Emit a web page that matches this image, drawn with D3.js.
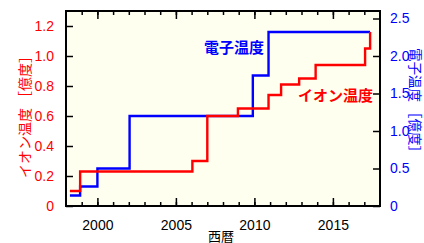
<!DOCTYPE html>
<html><head><meta charset="utf-8">
<script src="https://cdn.jsdelivr.net/npm/d3@7"></script>
<style>
html,body{margin:0;padding:0;background:#fff;}
svg{display:block;}
</style></head>
<body>
<svg id="c" width="424" height="243"></svg>
<script>
const ionYears = [1998.25, 1998.9, 2006.05, 2007.0, 2008.95, 2010.9, 2011.7, 2012.85, 2013.9, 2017.05, 2017.37];
const ionValues = [0.1, 0.23, 0.3, 0.6, 0.65, 0.74, 0.81, 0.85, 0.94, 1.05, 1.16];
const elecYears = [1998.25, 1998.9, 2000.0, 2002.05, 2009.9, 2010.9, 2017.37];
const elecValues = [0.14, 0.26, 0.5, 1.2, 1.74, 2.32, 2.32];
const xTicks = [2000, 2005, 2010, 2015];
const leftTicks = [0, 0.2, 0.4, 0.6, 0.8, 1.0, 1.2];
const rightTicks = [0, 0.5, 1.0, 1.5, 2.0, 2.5];
const leftLabel = "イオン温度 ［億度］";
const rightLabel = "電子温度 ［億度］";
const xLabel = "西暦";
const ionName = "イオン温度";
const elecName = "電子温度";

const L = 66, R = 380, T = 11, B = 206;
const svg = d3.select("#c");
const x = d3.scaleLinear().domain([1998, 2018]).range([L, R]);
const yL = d3.scaleLinear().domain([0, 1.3]).range([B, T]);
const yR = d3.scaleLinear().domain([0, 2.6]).range([B, T]);
const latin = "'Liberation Sans', Arial, sans-serif";
const cjk = "'Noto Sans CJK JP', sans-serif";
const RED = "#ff0000", BLUE = "#0000ff";

svg.append("rect").attr("x", L).attr("y", T).attr("width", R - L).attr("height", B - T).attr("fill", "#fffff0");

const line = d3.line().curve(d3.curveStepAfter);
svg.append("path").datum(elecYears.map((d, i) => [x(d), yR(elecValues[i])]))
  .attr("d", line).attr("fill", "none").attr("stroke", BLUE).attr("stroke-width", 2.4);
svg.append("path").datum(ionYears.map((d, i) => [x(d), yL(ionValues[i])]))
  .attr("d", line).attr("fill", "none").attr("stroke", RED).attr("stroke-width", 2.4);

// axes
const minorYears = d3.range(1999, 2018);
function styleAxis(g) { g.select(".domain").remove(); g.selectAll("line").attr("stroke", "#000").attr("stroke-width", 1.5); }
const gB = svg.append("g").attr("transform", `translate(0,${B})`)
  .call(d3.axisBottom(x).tickValues(minorYears).tickSize(-4).tickFormat(""));
styleAxis(gB);
const gB2 = svg.append("g").attr("transform", `translate(0,${B})`)
  .call(d3.axisBottom(x).tickValues(xTicks).tickSize(-8).tickPadding(14).tickFormat(d3.format("d")));
styleAxis(gB2);
gB2.selectAll("text").attr("font-family", latin).attr("font-size", 14).attr("fill", "#000");
const gT = svg.append("g").attr("transform", `translate(0,${T})`)
  .call(d3.axisTop(x).tickValues(minorYears).tickSize(-4).tickFormat(""));
styleAxis(gT);
const gT2 = svg.append("g").attr("transform", `translate(0,${T})`)
  .call(d3.axisTop(x).tickValues(xTicks).tickSize(-8).tickFormat(""));
styleAxis(gT2);

const gL = svg.append("g").attr("transform", `translate(${L},0)`)
  .call(d3.axisLeft(yL).tickValues(leftTicks).tickSize(-7).tickPadding(12)
    .tickFormat(d => d === 0 ? "0" : d3.format(".1f")(d)));
styleAxis(gL);
gL.selectAll("text").attr("font-family", latin).attr("font-size", 14).attr("fill", RED);

const gR = svg.append("g").attr("transform", `translate(${R},0)`)
  .call(d3.axisRight(yR).tickValues(rightTicks).tickSize(-7).tickPadding(10)
    .tickFormat(d => d === 0 ? "0" : d3.format(".1f")(d)));
styleAxis(gR);
gR.selectAll("text").attr("font-family", latin).attr("font-size", 14).attr("fill", BLUE);

svg.append("rect").attr("x", L).attr("y", T).attr("width", R - L).attr("height", B - T)
  .attr("fill", "none").attr("stroke", "#000").attr("stroke-width", 2);

// labels
svg.append("text").attr("transform", `translate(30,113.5) rotate(-90)`)
  .attr("text-anchor", "middle").attr("font-family", cjk).attr("font-size", 14).attr("fill", RED).text(leftLabel);
svg.append("text").attr("transform", `translate(409.5,103.5) rotate(90)`)
  .attr("text-anchor", "middle").attr("font-family", cjk).attr("font-size", 13.5).attr("fill", BLUE).text(rightLabel);
svg.append("text").attr("x", 221).attr("y", 240.5).attr("text-anchor", "middle")
  .attr("font-family", cjk).attr("font-size", 13).attr("fill", "#000").text(xLabel);
svg.append("text").attr("x", 264).attr("y", 53).attr("text-anchor", "end")
  .attr("font-family", cjk).attr("font-weight", "bold").attr("font-size", 15).attr("fill", BLUE).text(elecName);
svg.append("text").attr("x", 373).attr("y", 101).attr("text-anchor", "end")
  .attr("font-family", cjk).attr("font-weight", "bold").attr("font-size", 15).attr("fill", RED).text(ionName);
</script>
</body></html>
